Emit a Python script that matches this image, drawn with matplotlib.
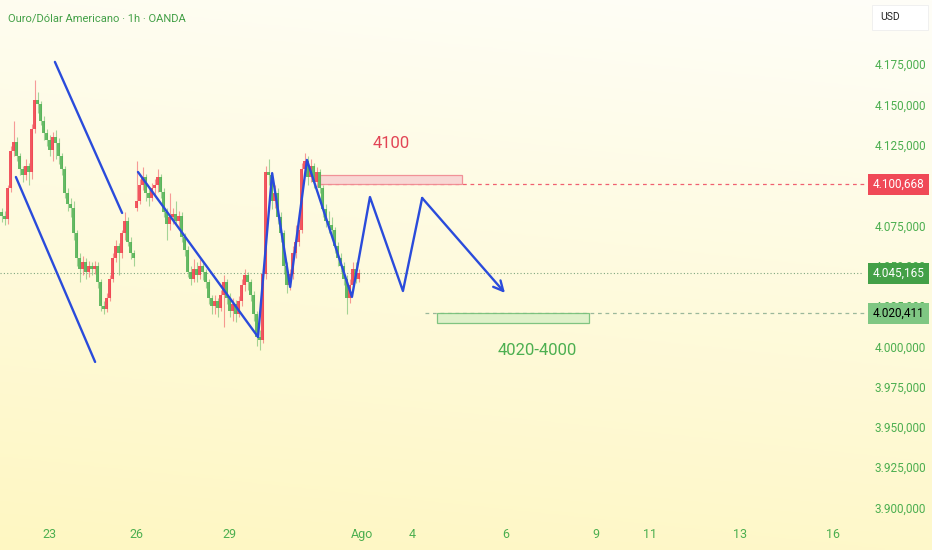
import matplotlib
matplotlib.use("Agg")
import matplotlib.pyplot as plt
import matplotlib.transforms as mtransforms
from matplotlib.patches import Rectangle
import numpy as np

# Hourly candles (bar index 0..119)
closes = [4081, 4079, 4098, 4121, 4127, 4118, 4110, 4106, 4112, 4108,
          4135, 4153, 4150, 4140, 4132, 4128, 4122, 4130, 4126, 4118,
          4110, 4095, 4088, 4086, 4070, 4055, 4048, 4052, 4046, 4050,
          4048, 4050, 4040, 4025, 4023, 4030, 4042, 4055, 4062, 4058,
          4070, 4078, 4065, 4058, 4055, 4090, 4100, 4105, 4095, 4092,
          4098, 4100, 4105, 4096, 4083, 4076, 4080, 4082, 4078, 4081,
          4068, 4060, 4046, 4042, 4048, 4044, 4050, 4046, 4040, 4030,
          4025, 4028, 4024, 4032, 4040, 4030, 4022, 4026, 4020, 4028,
          4038, 4044, 4040, 4032, 4020, 4006, 4004, 4045, 4108, 4106,
          4090, 4095, 4080, 4070, 4050, 4038, 4045, 4058, 4065, 4072,
          4110, 4115, 4105, 4112, 4102, 4108, 4098, 4085, 4078, 4075,
          4072, 4062, 4055, 4050, 4042, 4030, 4038, 4048, 4042, 4045.165]
highs = [4086, 4084, 4100, 4124, 4140, 4130, 4120, 4112, 4116, 4114,
         4138, 4165, 4158, 4152, 4143, 4135, 4131, 4133, 4134, 4129,
         4120, 4112, 4098, 4092, 4090, 4072, 4058, 4056, 4055, 4053,
         4052, 4053, 4052, 4042, 4028, 4033, 4044, 4058, 4066, 4064,
         4072, 4083, 4080, 4068, 4060, 4115, 4104, 4111, 4107, 4098,
         4101, 4104, 4110, 4107, 4098, 4086, 4095, 4086, 4090, 4084,
         4083, 4070, 4062, 4050, 4054, 4052, 4054, 4052, 4048, 4042,
         4032, 4032, 4030, 4035, 4044, 4042, 4033, 4030, 4029, 4031,
         4042, 4048, 4046, 4042, 4034, 4022, 4010, 4048, 4112, 4116,
         4108, 4100, 4098, 4083, 4072, 4052, 4048, 4062, 4075, 4078,
         4114, 4120, 4118, 4116, 4114, 4111, 4110, 4100, 4088, 4084,
         4080, 4074, 4065, 4058, 4052, 4044, 4042, 4052, 4052, 4048]
lows = [4077, 4075, 4076, 4096, 4118, 4115, 4106, 4102, 4103, 4100,
        4104, 4132, 4145, 4137, 4128, 4124, 4118, 4115, 4116, 4113,
        4106, 4092, 4084, 4080, 4066, 4050, 4040, 4044, 4042, 4043,
        4044, 4045, 4036, 4022, 4020, 4021, 4028, 4040, 4052, 4044,
        4055, 4066, 4062, 4054, 4050, 4084, 4088, 4097, 4090, 4087,
        4090, 4094, 4096, 4092, 4080, 4066, 4072, 4076, 4075, 4074,
        4065, 4056, 4043, 4038, 4040, 4040, 4042, 4041, 4036, 4026,
        4020, 4020, 4018, 4022, 4012, 4026, 4018, 4016, 4015, 4018,
        4025, 4034, 4035, 4028, 4016, 4000, 3998, 4002, 4042, 4100,
        4085, 4086, 4076, 4065, 4045, 4033, 4035, 4042, 4055, 4062,
        4070, 4106, 4100, 4102, 4098, 4099, 4095, 4080, 4074, 4070,
        4068, 4058, 4050, 4046, 4038, 4020, 4027, 4035, 4039, 4040]
session_opens = {0: 4083, 45: 4086}  # first bar / weekend gap

# drawings (bar index, price)
channel_upper = [(17.8, 4176.4), (40.2, 4082.7)]
channel_lower = [(4.8, 4105.0), (31.2, 3990.3)]
down_trend = [(45.5, 4108.1), (85.5, 4005.8)]
zigzag = [(85.5, 4005.8), (90.2, 4107.4), (96.2, 4036.8), (101.8, 4115.6),
          (116.8, 4030.6), (122.8, 4092.6), (133.8, 4034.3), (140.2, 4092.0)]
arrow_tip = (167.8, 4033.1)

resist_zone = (106.2, 153.5, 4100.7, 4106.3)
support_zone = (145.2, 195.8, 4014.6, 4020.4)
resist_level = 4100.668
support_level = 4020.411
last_price = 4045.165

# 4.100,000 sits fully under the red tag in the original, so it is left out
price_ticks = [3900, 3925, 3950, 3975, 4000, 4025, 4050, 4075, 4125, 4150, 4175]
date_pos = [16, 45, 76, 120, 137, 168, 198, 216, 246, 277]
date_labels = ["23", "26", "29", "Ago", "4", "6", "9", "11", "13", "16"]

FONT = ["Roboto", "DejaVu Sans"]
plt.rcParams["font.family"] = FONT
GREEN = "#4caf50"
RED_C = "#ef3b4a"
BLUE = "#2a4bdb"

opens = []
for i in range(len(closes)):
    opens.append(session_opens.get(i, closes[i - 1] if i > 0 else closes[0]))

fig = plt.figure(figsize=(9.32, 5.5), dpi=100)

# background gradient
bg = fig.add_axes([0, 0, 1, 1], zorder=-10)
yy, xx = np.mgrid[0:1:200j, 0:1:200j]
t = np.clip(0.85 * yy + 0.15 * (1 - xx), 0, 1)
top = np.array([254, 254, 248]) / 255
bot = np.array([255, 247, 194]) / 255
img = top[None, None, :] * (1 - t[..., None]) + bot[None, None, :] * t[..., None]
bg.imshow(img, aspect="auto", extent=[0, 1, 0, 1], origin="upper")
bg.axis("off")

ax = fig.add_axes([0, 32 / 550, 862 / 932, 518 / 550])
ax.set_facecolor("none")
for s in ax.spines.values():
    s.set_visible(False)

# candles
for i, (o, h, l, c) in enumerate(zip(opens, highs, lows, closes)):
    col = RED_C if c >= o else GREEN
    ax.vlines(i, l, h, color=col, lw=0.8, alpha=0.5, zorder=2)
    ax.bar(i, max(abs(c - o), 0.6), bottom=min(o, c), width=0.7,
           color=col, alpha=0.85, linewidth=0, zorder=3)

# levels
ax.axhline(last_price, color="#7fa57f", lw=0.8, ls=(0, (1, 2)), zorder=1)
ax.plot([106.2, 290], [resist_level] * 2, color="#f06070", lw=0.9,
        ls=(0, (3, 3)), zorder=1, clip_on=False)
ax.plot([141.2, 290], [support_level] * 2, color="#9bb89b", lw=0.9,
        ls=(0, (3, 3)), zorder=1, clip_on=False)

x0, x1, y0, y1 = resist_zone
ax.add_patch(Rectangle((x0, y0), x1 - x0, y1 - y0, facecolor="#f8d3d3",
                       edgecolor="#f08890", lw=0.9, alpha=0.9, zorder=2))
x0, x1, y0, y1 = support_zone
ax.add_patch(Rectangle((x0, y0), x1 - x0, y1 - y0, facecolor="#dcf0c8",
                       edgecolor="#74bf78", lw=0.9, alpha=0.9, zorder=2))

# blue drawings
for seg in (channel_upper, channel_lower, down_trend, zigzag):
    xs, ys = zip(*seg)
    ax.plot(xs, ys, color=BLUE, lw=1.7, solid_capstyle="round", zorder=5)
ax.annotate("", xy=arrow_tip, xytext=zigzag[-1],
            arrowprops=dict(arrowstyle="->,head_length=0.7,head_width=0.35",
                            color=BLUE, lw=1.7, shrinkA=0, shrinkB=0), zorder=5)

ax.text(130.0, 4126.0, "4100", color="#e24455", fontsize=12,
        ha="center", va="center")
ax.text(178.5, 3997.7, "4020-4000", color=GREEN, fontsize=12,
        ha="center", va="center")

ax.set_xlim(-0.5, 286.8)
ax.set_ylim(3893.5, 4214.8)

ax.yaxis.tick_right()
ax.set_yticks(price_ticks)
ax.set_yticklabels([f"{v // 1000}.{v % 1000:03d},000" for v in price_ticks])
ax.tick_params(axis="y", length=0, pad=9, labelsize=8.5, labelcolor=GREEN)
ax.set_xticks(date_pos)
ax.set_xticklabels(date_labels)
ax.tick_params(axis="x", length=0, pad=7, labelsize=9, labelcolor=GREEN)

# price tags on the scale
tr = mtransforms.blended_transform_factory(fig.transFigure, ax.transData)
tag_h = 21 / 1.612
for price, face, txtcol in [(resist_level, "#f04957", "white"),
                            (last_price, "#43a047", "white"),
                            (support_level, "#7fc783", "black")]:
    ax.add_patch(Rectangle((868 / 932, price - tag_h / 2), 61 / 932, tag_h,
                           transform=tr, facecolor=face, edgecolor="none",
                           clip_on=False, zorder=6))
    s = f"{price:.3f}"
    ip, fp = s.split(".")
    label = f"{ip[0]}.{ip[1:]},{fp}"
    ax.text(898.5 / 932, price, label, transform=tr, color=txtcol,
            fontsize=8.5, ha="center", va="center", clip_on=False, zorder=7)

# title and currency box
fig.text(8 / 932, 1 - 18 / 550, "Ouro/Dólar Americano · 1h · OANDA",
         color="#43a047", fontsize=8, ha="left", va="center")
fig.patches.append(Rectangle((872 / 932, 1 - 30 / 550), 56 / 932, 25 / 550,
                             transform=fig.transFigure, facecolor="white",
                             edgecolor="#eeeeee", lw=0.6))
fig.text(880 / 932, 1 - 17.5 / 550, "USD", color="#222222", fontsize=7.5,
         ha="left", va="center")

fig.savefig("out.png", dpi=100)
